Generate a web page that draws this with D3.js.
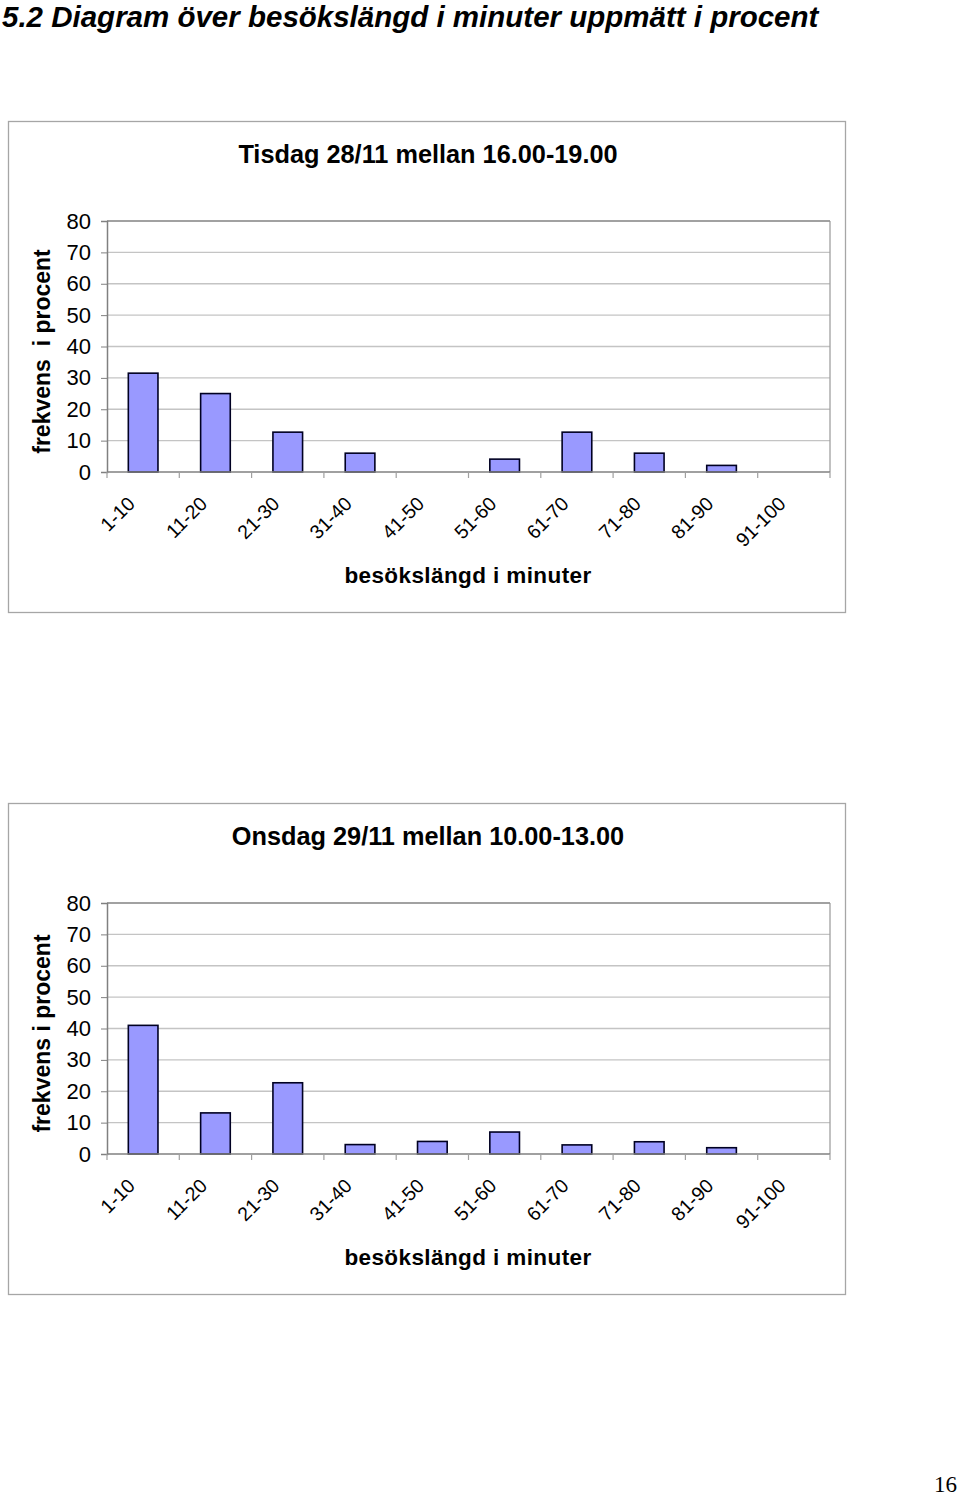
<!DOCTYPE html>
<html>
<head>
<meta charset="utf-8">
<script src="https://cdn.jsdelivr.net/npm/d3@7"></script>
<style>
  body { margin: 0; background: #fff; }
  svg { display: block; font-family: "Liberation Sans", Arial, sans-serif; }
</style>
</head>
<body>
<div id="page"></div>
<script>
// categories and values (percent)
const categories = ["1-10", "11-20", "21-30", "31-40", "41-50", "51-60", "61-70", "71-80", "81-90", "91-100"];
const tuesdayValues = [31.5, 25, 12.7, 6, 0, 4.1, 12.7, 6, 2.1, 0];
const wednesdayValues = [41, 13.1, 22.7, 3, 4, 7, 2.9, 3.9, 2, 0];
const yTicks = [0, 10, 20, 30, 40, 50, 60, 70, 80];

const charts = [
  { title: "Tisdag 28/11 mellan 16.00-19.00", yLabel: "frekvens\u00a0 i procent", values: tuesdayValues, top: 121 },
  { title: "Onsdag 29/11 mellan 10.00-13.00", yLabel: "frekvens i procent", values: wednesdayValues, top: 803 }
];

const svg = d3.select("#page")
  .append("svg")
  .attr("width", 960)
  .attr("height", 1497);

// page heading
svg.append("text")
  .attr("x", 2)
  .attr("y", 27)
  .attr("font-size", 29.5)
  .attr("font-weight", "bold")
  .attr("font-style", "italic")
  .text("5.2 Diagram över besökslängd i minuter uppmätt i procent");

// page number
svg.append("text")
  .attr("x", 957)
  .attr("y", 1492)
  .attr("text-anchor", "end")
  .attr("font-family", "'Liberation Serif', 'Times New Roman', serif")
  .attr("font-size", 23)
  .text("16");

const frameWidth = 837;
const frameHeight = 491;
const plot = { left: 99, top: 100, width: 723, height: 251 };

function drawChart(c) {
  const g = svg.append("g")
    .attr("transform", `translate(8, ${c.top})`);

  // outer frame
  g.append("rect")
    .attr("x", 0.5)
    .attr("y", 0.5)
    .attr("width", frameWidth)
    .attr("height", frameHeight)
    .attr("fill", "none")
    .attr("stroke", "#a6a6a6")
    .attr("stroke-width", 1.3);

  g.append("text")
    .attr("x", 420)
    .attr("y", 42)
    .attr("text-anchor", "middle")
    .attr("font-size", 25.3)
    .attr("font-weight", "bold")
    .text(c.title);

  const x = d3.scaleBand()
    .domain(categories)
    .range([0, plot.width]);

  const y = d3.scaleLinear()
    .domain([0, 80])
    .range([plot.height, 0]);

  const p = g.append("g")
    .attr("transform", `translate(${plot.left}, ${plot.top})`);

  // gridlines
  p.selectAll(".grid")
    .data(yTicks.filter(t => t > 0))
    .enter()
    .append("line")
    .attr("x1", 0)
    .attr("x2", plot.width)
    .attr("y1", d => y(d))
    .attr("y2", d => y(d))
    .attr("stroke", "#c4c4c4")
    .attr("stroke-width", 1.3);

  // right and top border of plot area
  p.append("line")
    .attr("x1", plot.width)
    .attr("x2", plot.width)
    .attr("y1", 0)
    .attr("y2", plot.height)
    .attr("stroke", "#a0a0a0")
    .attr("stroke-width", 1.3);
  p.append("line")
    .attr("x1", 0)
    .attr("x2", plot.width)
    .attr("y1", 0)
    .attr("y2", 0)
    .attr("stroke", "#909090")
    .attr("stroke-width", 1.5);

  // bars
  const rows = categories.map((cat, i) => ({ cat: cat, value: c.values[i] }));
  const barWidth = x.bandwidth() * 0.41;
  p.selectAll(".bar")
    .data(rows.filter(d => d.value > 0))
    .enter()
    .append("rect")
    .attr("x", d => x(d.cat) + (x.bandwidth() - barWidth) / 2)
    .attr("y", d => y(d.value))
    .attr("width", barWidth)
    .attr("height", d => plot.height - y(d.value))
    .attr("fill", "#9999ff")
    .attr("stroke", "#000022")
    .attr("stroke-width", 1.6);

  // y axis
  const yAxis = d3.axisLeft(y)
    .tickValues(yTicks)
    .tickSize(6)
    .tickPadding(10);
  const ya = p.append("g").call(yAxis);
  ya.select(".domain").attr("stroke", "#808080").attr("stroke-width", 1.5);
  ya.selectAll(".tick line").attr("stroke", "#808080");
  ya.selectAll(".tick text")
    .attr("font-size", 22)
    .attr("fill", "#000")
    .attr("font-family", "'Liberation Sans', Arial, sans-serif");

  // x axis
  const boundaries = categories.map(d => x(d)).concat([plot.width]);
  p.append("line")
    .attr("x1", 0)
    .attr("x2", plot.width)
    .attr("y1", plot.height)
    .attr("y2", plot.height)
    .attr("stroke", "#808080")
    .attr("stroke-width", 1.5);
  p.selectAll(".xtick")
    .data(boundaries)
    .enter()
    .append("line")
    .attr("x1", d => d)
    .attr("x2", d => d)
    .attr("y1", plot.height)
    .attr("y2", plot.height + 6)
    .attr("stroke", "#a0a0a0")
    .attr("stroke-width", 1.2);

  p.selectAll(".xlabel")
    .data(categories)
    .enter()
    .append("text")
    .attr("text-anchor", "end")
    .attr("font-size", 19.5)
    .attr("transform", d => `translate(${x(d) + x.bandwidth() / 2 - 7}, ${plot.height + 33}) rotate(-45)`)
    .text(d => d);

  // axis titles
  g.append("text")
    .attr("x", 460)
    .attr("y", 462)
    .attr("text-anchor", "middle")
    .attr("font-size", 22.5)
    .attr("font-weight", "bold")
    .attr("letter-spacing", 0.4)
    .text("besökslängd i minuter");

  g.append("text")
    .attr("transform", `translate(42, ${plot.top + plot.height / 2 + 5}) rotate(-90)`)
    .attr("text-anchor", "middle")
    .attr("font-size", 23)
    .attr("font-weight", "bold")
    .text(c.yLabel);
}

charts.forEach(drawChart);
</script>
</body>
</html>
